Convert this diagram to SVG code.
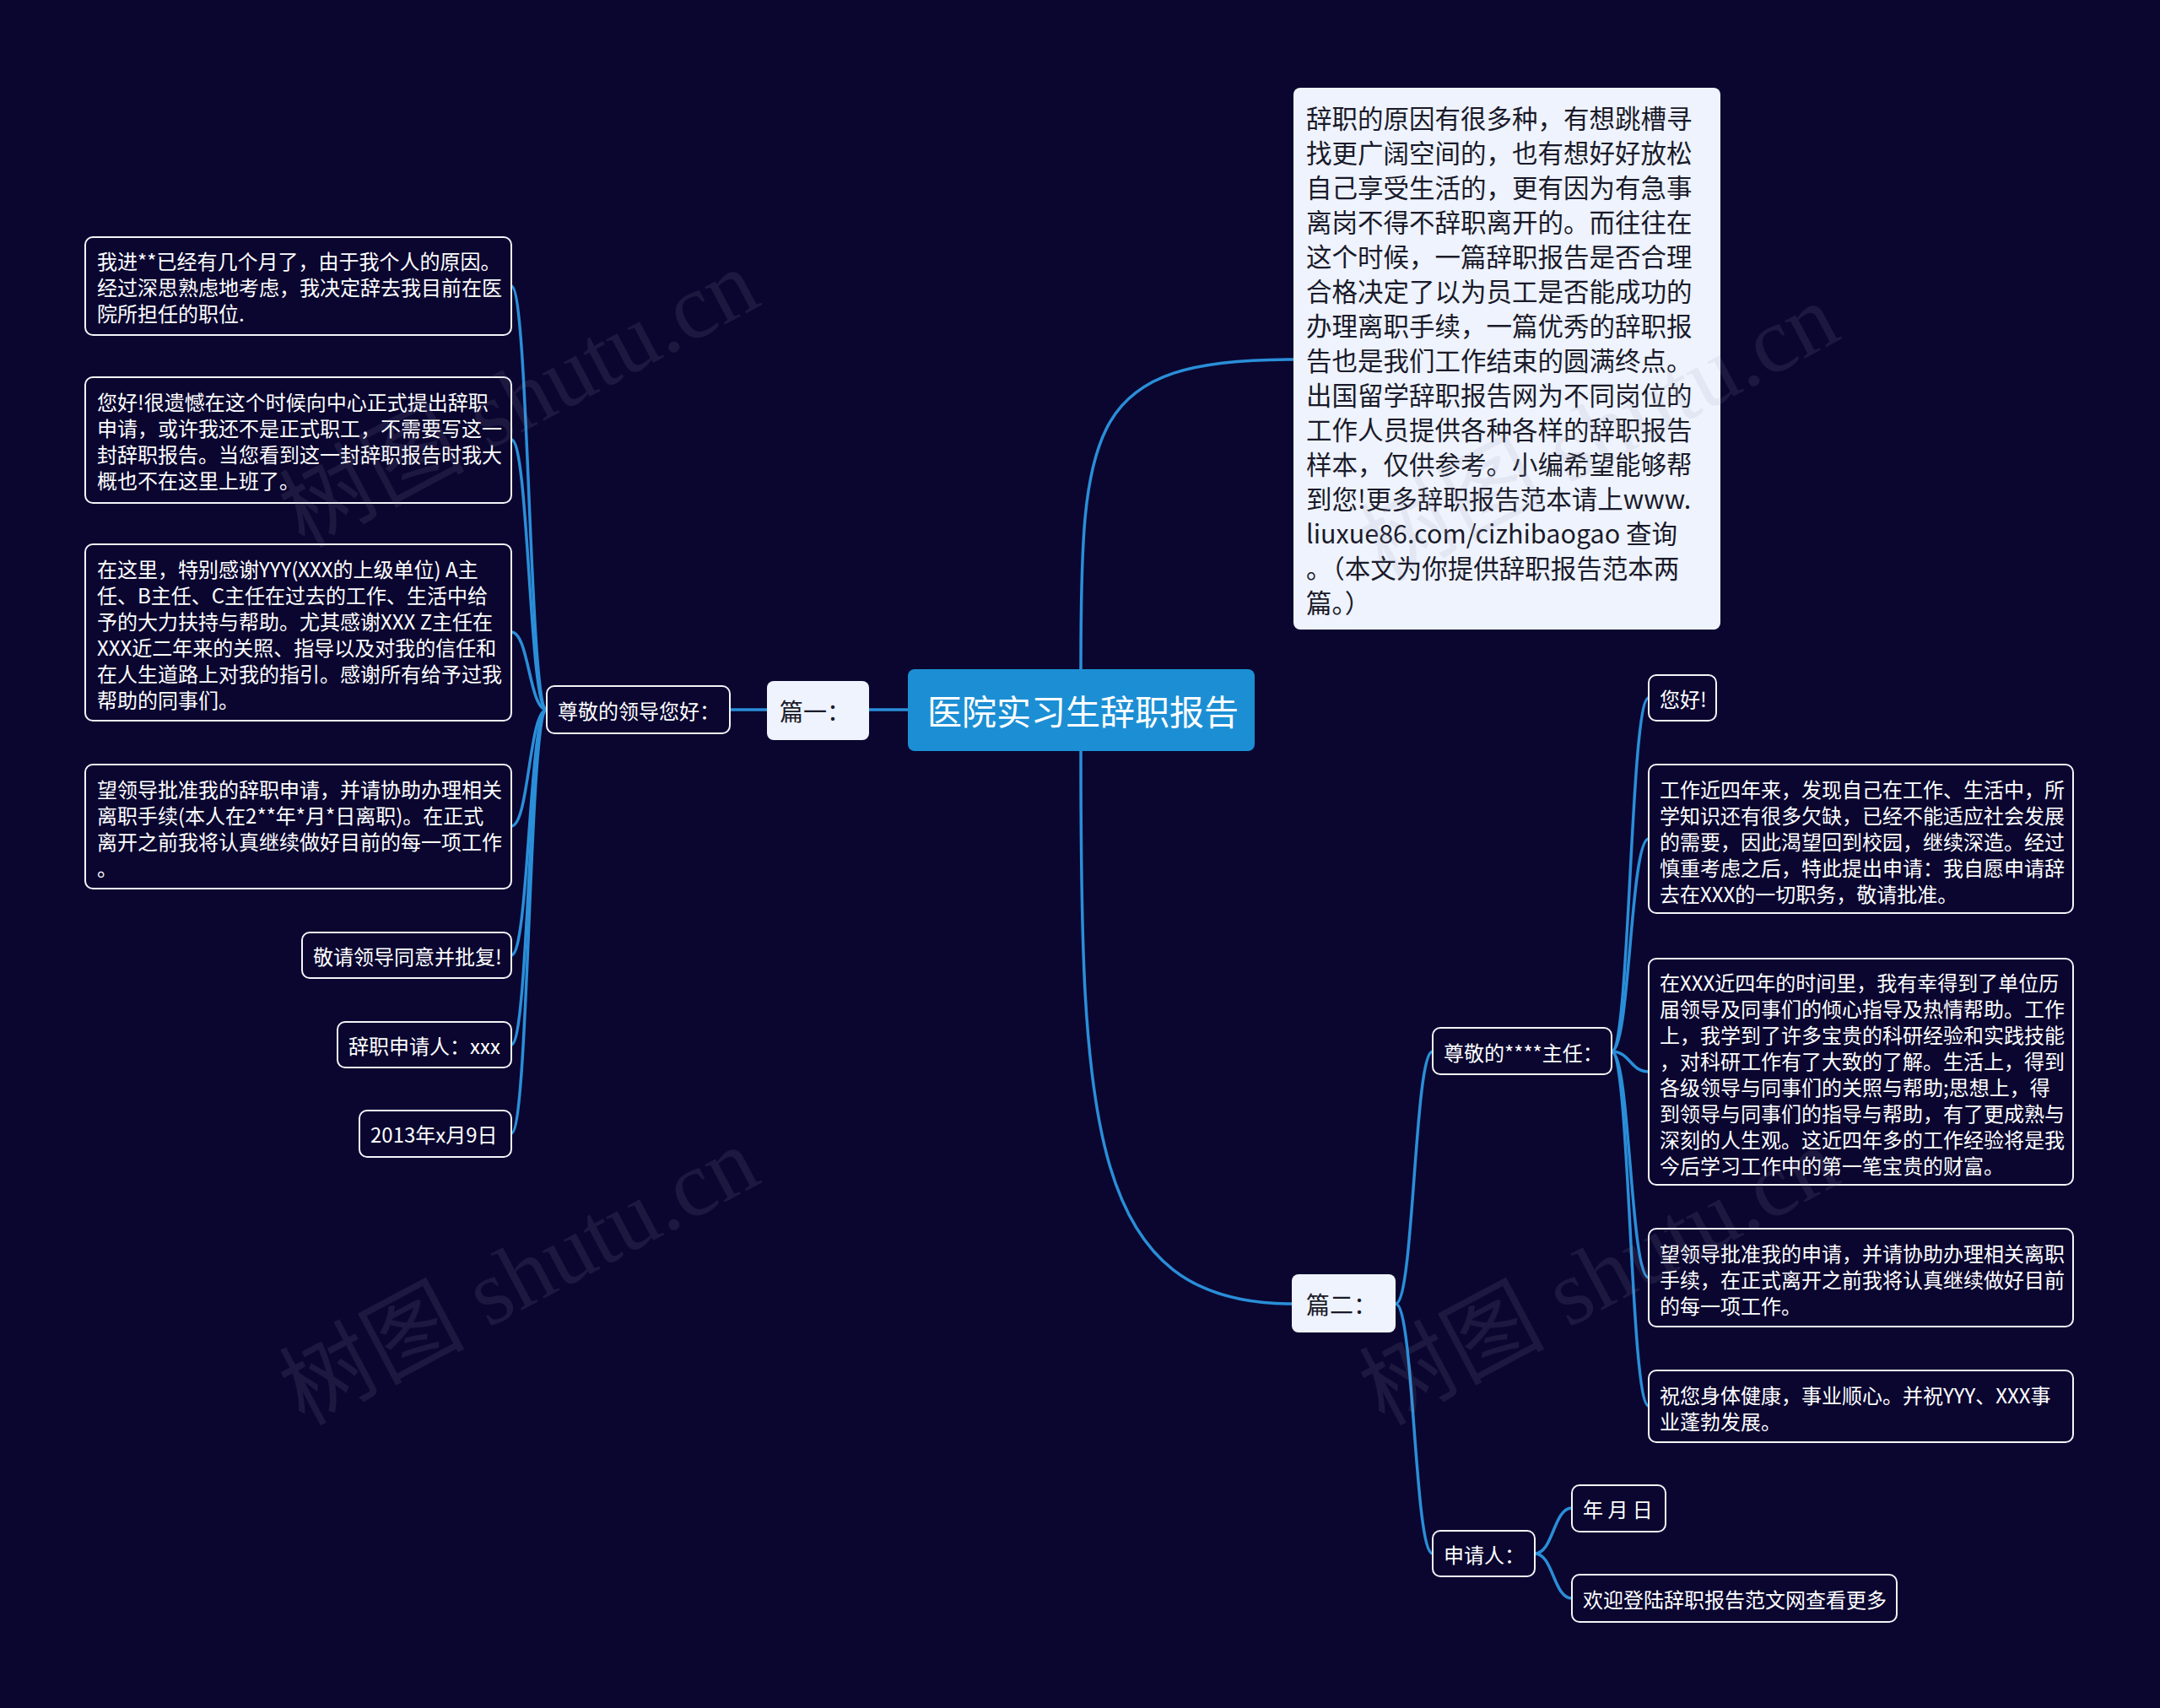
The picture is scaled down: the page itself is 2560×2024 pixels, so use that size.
<svg xmlns="http://www.w3.org/2000/svg" width="2560" height="2024" viewBox="0 0 2560 2024">
<style>
.bg{fill:#0a0630}
.leaf{fill:#0a0630;stroke:#f4f4f8;stroke-width:2}
.light{fill:#eef3fd}
.root{fill:#1c8fd4}
text{font-family:"Noto Sans CJK SC","Noto Sans",sans-serif;dominant-baseline:central}
.w{fill:#ffffff;font-size:24px}
.dk{fill:#1a1a2a}
.lk{fill:none;stroke:#2a8ed8;stroke-width:3.5;stroke-linecap:round}
.wm{font-family:"Liberation Serif","Noto Sans CJK SC",serif;font-size:110px;fill:#9a9ab0;opacity:0.12;dominant-baseline:auto}
</style>
<rect class="bg" x="0" y="0" width="2560" height="2024"/>

<g id="connectors">
<path class="lk" d="M1076 841 L1030 841" stroke-width="5"/>
<path class="lk" d="M909 841 L865 841"/>
<path class="lk" d="M1281 793 C1281 500 1290 426 1533 426"/>
<path class="lk" d="M1281 890 C1281 1330 1290 1545 1531 1545"/>
<path class="lk" d="M648 841 C627 841 627 339 606 339"/>
<path class="lk" d="M648 841 C627 841 627 521 606 521"/>
<path class="lk" d="M648 841 C627 841 627 749 606 749"/>
<path class="lk" d="M648 841 C627 841 627 979 606 979"/>
<path class="lk" d="M648 841 C627 841 627 1132 606 1132"/>
<path class="lk" d="M648 841 C627 841 627 1238 606 1238"/>
<path class="lk" d="M648 841 C627 841 627 1343 606 1343"/>
<path class="lk" d="M1654 1545 C1676 1545 1676 1246 1698 1246"/>
<path class="lk" d="M1654 1545 C1676 1545 1676 1841 1698 1841"/>
<path class="lk" d="M1910 1246 C1932 1246 1932 827 1954 827"/>
<path class="lk" d="M1910 1246 C1932 1246 1932 994 1954 994"/>
<path class="lk" d="M1910 1246 C1932 1246 1932 1270 1954 1270"/>
<path class="lk" d="M1910 1246 C1932 1246 1932 1514 1954 1514"/>
<path class="lk" d="M1910 1246 C1932 1246 1932 1666 1954 1666"/>
<path class="lk" d="M1819 1841 C1841 1841 1841 1787 1863 1787"/>
<path class="lk" d="M1819 1841 C1841 1841 1841 1894 1863 1894"/>
</g>

<g id="root">
<rect class="root" x="1076" y="793" width="411" height="97" rx="8"/>
<text x="1099" y="841" fill="#ffffff" font-size="41">医院实习生辞职报告</text>
</g>

<g id="pian1">
<rect class="light" x="909" y="807" width="121" height="70" rx="8"/>
<text class="dk" x="924" y="842" font-size="28">篇一：</text>
</g>

<g id="greet1">
<rect class="leaf" x="648" y="813" width="217" height="56" rx="9"/>
<text class="w" x="661" y="841">尊敬的领导您好：</text>
</g>

<g id="l1">
<rect class="leaf" x="101" y="281" width="505" height="116" rx="9"/>
<text class="w" x="115" y="308">我进**已经有几个月了，由于我个人的原因。</text>
<text class="w" x="115" y="339">经过深思熟虑地考虑，我决定辞去我目前在医</text>
<text class="w" x="115" y="370">院所担任的职位.</text>
</g>

<g id="l2">
<rect class="leaf" x="101" y="447" width="505" height="149" rx="9"/>
<text class="w" x="115" y="475">您好!很遗憾在这个时候向中心正式提出辞职</text>
<text class="w" x="115" y="506">申请，或许我还不是正式职工，不需要写这一</text>
<text class="w" x="115" y="537">封辞职报告。当您看到这一封辞职报告时我大</text>
<text class="w" x="115" y="568">概也不在这里上班了。</text>
</g>

<g id="l3">
<rect class="leaf" x="101" y="645" width="505" height="209" rx="9"/>
<text class="w" x="115" y="673">在这里，特别感谢YYY(XXX的上级单位) A主</text>
<text class="w" x="115" y="704">任、B主任、C主任在过去的工作、生活中给</text>
<text class="w" x="115" y="735">予的大力扶持与帮助。尤其感谢XXX Z主任在</text>
<text class="w" x="115" y="766">XXX近二年来的关照、指导以及对我的信任和</text>
<text class="w" x="115" y="797">在人生道路上对我的指引。感谢所有给予过我</text>
<text class="w" x="115" y="828">帮助的同事们。</text>
</g>

<g id="l4">
<rect class="leaf" x="101" y="906" width="505" height="147" rx="9"/>
<text class="w" x="115" y="934">望领导批准我的辞职申请，并请协助办理相关</text>
<text class="w" x="115" y="965">离职手续(本人在2**年*月*日离职)。在正式</text>
<text class="w" x="115" y="996">离开之前我将认真继续做好目前的每一项工作</text>
<text class="w" x="115" y="1027">。</text>
</g>

<g id="l5">
<rect class="leaf" x="358" y="1105" width="248" height="54" rx="9"/>
<text class="w" x="371" y="1132">敬请领导同意并批复!</text>
</g>

<g id="l6">
<rect class="leaf" x="400" y="1211" width="206" height="54" rx="9"/>
<text class="w" x="413" y="1238">辞职申请人：xxx</text>
</g>

<g id="l7">
<rect class="leaf" x="426" y="1316" width="180" height="55" rx="9"/>
<text class="w" x="439" y="1343">2013年x月9日</text>
</g>

<g id="intro">
<rect class="light" x="1533" y="104" width="506" height="642" rx="8"/>
<g class="dk" font-size="30.5">
<text x="1548" y="139">辞职的原因有很多种，有想跳槽寻</text>
<text x="1548" y="180">找更广阔空间的，也有想好好放松</text>
<text x="1548" y="221">自己享受生活的，更有因为有急事</text>
<text x="1548" y="262">离岗不得不辞职离开的。而往往在</text>
<text x="1548" y="303">这个时候，一篇辞职报告是否合理</text>
<text x="1548" y="344">合格决定了以为员工是否能成功的</text>
<text x="1548" y="385">办理离职手续，一篇优秀的辞职报</text>
<text x="1548" y="426">告也是我们工作结束的圆满终点。</text>
<text x="1548" y="467">出国留学辞职报告网为不同岗位的</text>
<text x="1548" y="508">工作人员提供各种各样的辞职报告</text>
<text x="1548" y="549">样本，仅供参考。小编希望能够帮</text>
<text x="1548" y="590">到您!更多辞职报告范本请上www.</text>
<text x="1548" y="631">liuxue86.com/cizhibaogao 查询</text>
<text x="1548" y="672">。（本文为你提供辞职报告范本两</text>
<text x="1548" y="713">篇。）</text>
</g>
</g>

<g id="pian2">
<rect class="light" x="1531" y="1510" width="123" height="69" rx="8"/>
<text class="dk" x="1548" y="1545" font-size="28">篇二：</text>
</g>

<g id="greet2">
<rect class="leaf" x="1698" y="1218" width="212" height="55" rx="9"/>
<text class="w" x="1711" y="1246">尊敬的****主任：</text>
</g>

<g id="r1">
<rect class="leaf" x="1954" y="800" width="80" height="54" rx="9"/>
<text class="w" x="1967" y="827">您好!</text>
</g>

<g id="r2">
<rect class="leaf" x="1954" y="906" width="503" height="176" rx="9"/>
<text class="w" x="1967" y="934">工作近四年来，发现自己在工作、生活中，所</text>
<text class="w" x="1967" y="965">学知识还有很多欠缺，已经不能适应社会发展</text>
<text class="w" x="1967" y="996">的需要，因此渴望回到校园，继续深造。经过</text>
<text class="w" x="1967" y="1027">慎重考虑之后，特此提出申请：我自愿申请辞</text>
<text class="w" x="1967" y="1058">去在XXX的一切职务，敬请批准。</text>
</g>

<g id="r3">
<rect class="leaf" x="1954" y="1136" width="503" height="268" rx="9"/>
<text class="w" x="1967" y="1163">在XXX近四年的时间里，我有幸得到了单位历</text>
<text class="w" x="1967" y="1194">届领导及同事们的倾心指导及热情帮助。工作</text>
<text class="w" x="1967" y="1225">上，我学到了许多宝贵的科研经验和实践技能</text>
<text class="w" x="1967" y="1256">，对科研工作有了大致的了解。生活上，得到</text>
<text class="w" x="1967" y="1287">各级领导与同事们的关照与帮助;思想上，得</text>
<text class="w" x="1967" y="1318">到领导与同事们的指导与帮助，有了更成熟与</text>
<text class="w" x="1967" y="1349">深刻的人生观。这近四年多的工作经验将是我</text>
<text class="w" x="1967" y="1380">今后学习工作中的第一笔宝贵的财富。</text>
</g>

<g id="r4">
<rect class="leaf" x="1954" y="1456" width="503" height="116" rx="9"/>
<text class="w" x="1967" y="1484">望领导批准我的申请，并请协助办理相关离职</text>
<text class="w" x="1967" y="1515">手续，在正式离开之前我将认真继续做好目前</text>
<text class="w" x="1967" y="1546">的每一项工作。</text>
</g>

<g id="r5">
<rect class="leaf" x="1954" y="1624" width="503" height="85" rx="9"/>
<text class="w" x="1967" y="1652">祝您身体健康，事业顺心。并祝YYY、XXX事</text>
<text class="w" x="1967" y="1683">业蓬勃发展。</text>
</g>

<g id="applicant">
<rect class="leaf" x="1698" y="1814" width="121" height="54" rx="9"/>
<text class="w" x="1711" y="1841">申请人：</text>
</g>

<g id="date">
<rect class="leaf" x="1863" y="1760" width="111" height="55" rx="9"/>
<text class="w" x="1876" y="1787">年 月 日</text>
</g>

<g id="more">
<rect class="leaf" x="1863" y="1866" width="385" height="56" rx="9"/>
<text class="w" x="1876" y="1894">欢迎登陆辞职报告范文网查看更多</text>
</g>

<g id="watermarks">
<text class="wm" transform="translate(360 650) rotate(-28)">树图 shutu.cn</text>
<text class="wm" transform="translate(360 1690) rotate(-28)">树图 shutu.cn</text>
<text class="wm" transform="translate(1640 690) rotate(-28)">树图 shutu.cn</text>
<text class="wm" transform="translate(1640 1690) rotate(-28)">树图 shutu.cn</text>
</g>
</svg>
